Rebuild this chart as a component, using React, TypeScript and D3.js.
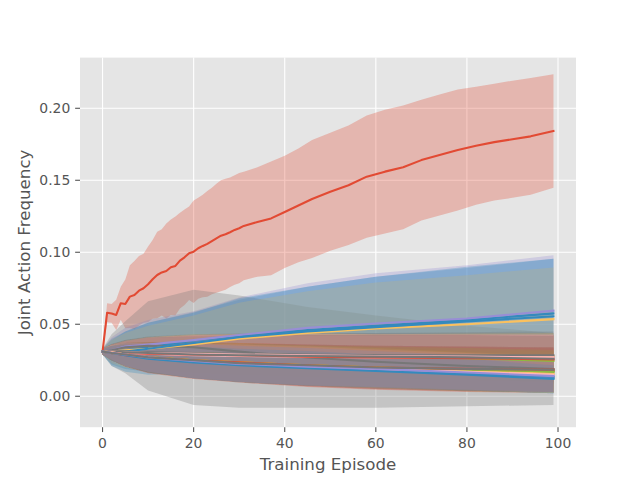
import * as d3 from 'd3';

// ggplot style colour cycle
const COLORS = ['#E24A33', '#348ABD', '#988ED5', '#777777', '#FBC15E', '#8EBA42', '#FFB5B8'];

const X_TICKS = [0, 20, 40, 60, 80, 100];
const Y_TICKS = [0, 0.05, 0.1, 0.15, 0.2];

// the dominant joint action (series 0), sampled densely
const RED_EPISODES = [
  0, 1, 2, 3, 4, 5, 6, 7, 8, 9, 10, 11, 12, 13, 14, 15, 16, 17, 18, 19, 20, 21, 22, 23, 24, 25,
  26, 27, 28, 29, 30, 31, 34, 37, 40, 43, 46, 50, 54, 58, 62, 66, 70, 74, 78, 82, 86, 90, 94, 99,
];
const RED_MEAN = [
  0.031, 0.058, 0.0575, 0.0565, 0.0646, 0.0641, 0.0692, 0.0703, 0.0733, 0.075, 0.0778, 0.0812,
  0.0842, 0.086, 0.087, 0.0896, 0.0905, 0.0942, 0.0965, 0.0993, 0.1004, 0.1028, 0.1044, 0.1058,
  0.1078, 0.1097, 0.1115, 0.1125, 0.1139, 0.1155, 0.1167, 0.1183, 0.121, 0.1235, 0.128, 0.1325,
  0.137, 0.142, 0.1465, 0.1525, 0.156, 0.159, 0.164, 0.1675, 0.171, 0.174, 0.1765, 0.1785, 0.1805,
  0.1842,
];
const RED_SD = [
  0.0, 0.0066, 0.0065, 0.0105, 0.0114, 0.0169, 0.0218, 0.0237, 0.0241, 0.024, 0.0262, 0.0273,
  0.0301, 0.03, 0.033, 0.0332, 0.0343, 0.0333, 0.0332, 0.0324, 0.0356, 0.035, 0.0356, 0.0367,
  0.037, 0.0378, 0.0385, 0.0385, 0.038, 0.038, 0.0383, 0.0377, 0.038, 0.0395, 0.039, 0.0395,
  0.041, 0.041, 0.0415, 0.0425, 0.043, 0.043, 0.042, 0.042, 0.042, 0.041, 0.0405, 0.0407, 0.0405,
  0.0394,
];

// the other 31 joint actions, sampled at these episodes
const EPISODES = [0, 2, 5, 10, 20, 30, 45, 60, 80, 99];

const MEANS = [
  [0.031, 0.031, 0.032, 0.034, 0.0385, 0.042, 0.046, 0.049, 0.053, 0.0575], // 1
  [0.031, 0.032, 0.0345, 0.036, 0.039, 0.0425, 0.0475, 0.0505, 0.054, 0.0594], // 2
  [0.031, 0.032, 0.034, 0.035, 0.034, 0.031, 0.027, 0.024, 0.021, 0.019], // 3
  [0.031, 0.031, 0.032, 0.033, 0.036, 0.04, 0.044, 0.047, 0.05, 0.0535], // 4
  [0.031, 0.031, 0.0305, 0.03, 0.0295, 0.029, 0.0285, 0.028, 0.0265, 0.0245], // 5
  [0.031, 0.031, 0.03, 0.0295, 0.029, 0.0285, 0.028, 0.0275, 0.027, 0.026], // 6
  [0.031, 0.031, 0.0305, 0.03, 0.0295, 0.029, 0.028, 0.0275, 0.027, 0.026], // 7
  [0.031, 0.03, 0.031, 0.033, 0.037, 0.041, 0.045, 0.048, 0.052, 0.0555], // 8
  [0.031, 0.0305, 0.03, 0.0295, 0.029, 0.0285, 0.028, 0.0275, 0.027, 0.0265], // 9
  [0.031, 0.031, 0.031, 0.03, 0.0295, 0.029, 0.0285, 0.028, 0.0275, 0.027], // 10
  [0.031, 0.031, 0.0305, 0.03, 0.03, 0.029, 0.0285, 0.028, 0.028, 0.028], // 11
  [0.031, 0.03, 0.029, 0.027, 0.025, 0.023, 0.0215, 0.02, 0.018, 0.017], // 12
  [0.031, 0.0305, 0.03, 0.0295, 0.0285, 0.028, 0.0275, 0.027, 0.027, 0.0265], // 13
  [0.031, 0.031, 0.03, 0.0295, 0.029, 0.0285, 0.0275, 0.027, 0.0265, 0.0255], // 14
  [0.031, 0.03, 0.029, 0.0265, 0.024, 0.022, 0.02, 0.018, 0.0155, 0.0125], // 15
  [0.031, 0.0305, 0.029, 0.027, 0.0245, 0.0225, 0.0205, 0.0185, 0.016, 0.0135], // 16
  [0.031, 0.0315, 0.031, 0.0305, 0.03, 0.0295, 0.029, 0.0285, 0.0285, 0.0285], // 17
  [0.031, 0.0305, 0.029, 0.027, 0.0245, 0.023, 0.021, 0.0195, 0.0175, 0.0155], // 18
  [0.031, 0.03, 0.029, 0.027, 0.025, 0.023, 0.021, 0.0195, 0.018, 0.017], // 19
  [0.031, 0.031, 0.0305, 0.03, 0.0295, 0.029, 0.0285, 0.028, 0.0275, 0.027], // 20
  [0.031, 0.03, 0.0285, 0.0265, 0.0245, 0.023, 0.021, 0.0195, 0.0185, 0.0178], // 21
  [0.031, 0.0305, 0.029, 0.027, 0.0245, 0.0225, 0.0205, 0.0185, 0.016, 0.0135], // 22
  [0.031, 0.03, 0.029, 0.027, 0.025, 0.023, 0.0215, 0.0195, 0.017, 0.015], // 23
  [0.031, 0.031, 0.0305, 0.03, 0.029, 0.0285, 0.028, 0.0275, 0.027, 0.026], // 24
  [0.031, 0.0305, 0.029, 0.027, 0.025, 0.0235, 0.0215, 0.02, 0.0175, 0.0155], // 25
  [0.031, 0.03, 0.029, 0.027, 0.025, 0.0235, 0.0215, 0.02, 0.0185, 0.0172], // 26
  [0.031, 0.0305, 0.029, 0.027, 0.0245, 0.023, 0.021, 0.019, 0.017, 0.015], // 27
  [0.031, 0.03, 0.029, 0.027, 0.025, 0.0235, 0.0215, 0.02, 0.019, 0.0185], // 28
  [0.031, 0.03, 0.0285, 0.026, 0.0235, 0.0215, 0.0195, 0.0175, 0.015, 0.012], // 29
  [0.031, 0.03, 0.029, 0.027, 0.0245, 0.0225, 0.0205, 0.019, 0.0165, 0.014], // 30
  [0.031, 0.03, 0.029, 0.027, 0.025, 0.023, 0.0215, 0.02, 0.019, 0.0185], // 31
];

const SDS = [
  [0.002, 0.009, 0.013, 0.017, 0.02, 0.025, 0.03, 0.034, 0.036, 0.038], // 1
  [0.002, 0.009, 0.013, 0.017, 0.02, 0.026, 0.031, 0.035, 0.037, 0.0385], // 2
  [0.002, 0.011, 0.018, 0.031, 0.04, 0.039, 0.035, 0.032, 0.028, 0.025], // 3
  [0.002, 0.008, 0.012, 0.016, 0.02, 0.025, 0.029, 0.032, 0.034, 0.036], // 4
  [0.002, 0.005, 0.008, 0.011, 0.013, 0.014, 0.015, 0.015, 0.0155, 0.016], // 5
  [0.002, 0.005, 0.008, 0.011, 0.0125, 0.0135, 0.0145, 0.015, 0.015, 0.0155], // 6
  [0.002, 0.005, 0.008, 0.011, 0.013, 0.014, 0.015, 0.0155, 0.016, 0.0165], // 7
  [0.002, 0.009, 0.014, 0.018, 0.021, 0.027, 0.031, 0.035, 0.038, 0.04], // 8
  [0.002, 0.005, 0.008, 0.011, 0.013, 0.014, 0.0145, 0.015, 0.0155, 0.016], // 9
  [0.002, 0.005, 0.008, 0.011, 0.013, 0.014, 0.015, 0.0155, 0.016, 0.0165], // 10
  [0.002, 0.005, 0.008, 0.011, 0.013, 0.014, 0.015, 0.015, 0.0155, 0.016], // 11
  [0.002, 0.005, 0.008, 0.01, 0.012, 0.013, 0.0135, 0.014, 0.014, 0.014], // 12
  [0.002, 0.005, 0.008, 0.011, 0.013, 0.014, 0.0145, 0.015, 0.0155, 0.016], // 13
  [0.002, 0.005, 0.008, 0.011, 0.013, 0.014, 0.015, 0.0155, 0.016, 0.0165], // 14
  [0.002, 0.005, 0.0075, 0.0095, 0.0115, 0.012, 0.0125, 0.012, 0.0115, 0.0105], // 15
  [0.002, 0.005, 0.008, 0.01, 0.012, 0.0125, 0.013, 0.013, 0.012, 0.0115], // 16
  [0.002, 0.005, 0.008, 0.011, 0.013, 0.014, 0.015, 0.0155, 0.016, 0.0165], // 17
  [0.002, 0.005, 0.008, 0.01, 0.012, 0.013, 0.0135, 0.0135, 0.013, 0.013], // 18
  [0.002, 0.005, 0.008, 0.01, 0.012, 0.013, 0.0135, 0.014, 0.014, 0.0145], // 19
  [0.002, 0.005, 0.008, 0.011, 0.013, 0.014, 0.015, 0.015, 0.0155, 0.016], // 20
  [0.002, 0.005, 0.008, 0.0105, 0.0125, 0.0135, 0.0145, 0.015, 0.0155, 0.0155], // 21
  [0.002, 0.005, 0.008, 0.01, 0.012, 0.0125, 0.013, 0.013, 0.012, 0.0115], // 22
  [0.002, 0.005, 0.008, 0.01, 0.012, 0.013, 0.0135, 0.0135, 0.013, 0.0125], // 23
  [0.002, 0.005, 0.008, 0.011, 0.0125, 0.0135, 0.0145, 0.015, 0.0155, 0.016], // 24
  [0.002, 0.005, 0.008, 0.01, 0.012, 0.013, 0.0135, 0.0135, 0.013, 0.013], // 25
  [0.002, 0.005, 0.008, 0.0105, 0.0125, 0.0135, 0.014, 0.0145, 0.015, 0.015], // 26
  [0.002, 0.005, 0.008, 0.01, 0.012, 0.013, 0.0135, 0.0135, 0.013, 0.0125], // 27
  [0.002, 0.005, 0.008, 0.0105, 0.0125, 0.0135, 0.0145, 0.015, 0.0155, 0.0155], // 28
  [0.002, 0.005, 0.0075, 0.0095, 0.011, 0.0115, 0.012, 0.0115, 0.011, 0.0095], // 29
  [0.002, 0.005, 0.008, 0.01, 0.012, 0.0125, 0.013, 0.0125, 0.012, 0.011], // 30
  [0.002, 0.005, 0.008, 0.0105, 0.0125, 0.0135, 0.0145, 0.015, 0.0155, 0.0155], // 31
];

const W = 640;
const H = 480;
const AX = { left: 80, right: 576, top: 57.6, bottom: 427.2 };
const FONT = '"DejaVu Sans", sans-serif';
const TEXT = '#555555';

type Pt = { x: number; m: number; s: number };

export default function App() {
  const x = d3.scaleLinear().domain([-4.95, 103.95]).range([AX.left, AX.right]);
  const y = d3.scaleLinear().domain([-0.0215, 0.2352]).range([AX.bottom, AX.top]);

  const series = [
    { ep: RED_EPISODES, mean: RED_MEAN, sd: RED_SD },
    ...MEANS.map((m, i) => ({ ep: EPISODES, mean: m, sd: SDS[i] })),
  ].map((s, i) => ({
    color: COLORS[i % COLORS.length],
    pts: s.ep.map((e, j) => ({ x: e, m: s.mean[j], s: s.sd[j] })) as Pt[],
  }));

  const area = d3.area<Pt>()
    .x(d => x(d.x))
    .y0(d => y(d.m - d.s))
    .y1(d => y(d.m + d.s));
  const line = d3.line<Pt>()
    .x(d => x(d.x))
    .y(d => y(d.m));

  return (
    <svg width={W} height={H} style={{ position: 'absolute', left: 0, top: 0, background: '#fff' }}>
      <rect x={AX.left} y={AX.top} width={AX.right - AX.left} height={AX.bottom - AX.top} fill="#E5E5E5" />
      <g>
        {X_TICKS.map(t => (
          <line key={`gx${t}`} x1={x(t)} x2={x(t)} y1={AX.top} y2={AX.bottom} stroke="#fff" strokeWidth={1.1} />
        ))}
        {Y_TICKS.map(t => (
          <line key={`gy${t}`} x1={AX.left} x2={AX.right} y1={y(t)} y2={y(t)} stroke="#fff" strokeWidth={1.1} />
        ))}
      </g>

      {/* bands (collections sit under the lines) */}
      <g>
        {series.map((s, i) => (
          <path key={`b${i}`} d={area(s.pts) ?? ''} fill={s.color} fillOpacity={0.3} stroke="none" />
        ))}
      </g>
      <g>
        {series.map((s, i) => (
          <path key={`l${i}`} d={line(s.pts) ?? ''} fill="none" stroke={s.color} strokeWidth={2.08}
            strokeLinejoin="round" strokeLinecap="square" />
        ))}
      </g>

      {/* ticks */}
      <g fontFamily={FONT} fontSize={13.9} fill={TEXT}>
        {X_TICKS.map(t => (
          <g key={`tx${t}`}>
            <line x1={x(t)} x2={x(t)} y1={AX.bottom} y2={AX.bottom + 4.86} stroke={TEXT} strokeWidth={1.1} />
            <text x={x(t)} y={AX.bottom + 20.5} textAnchor="middle">{t}</text>
          </g>
        ))}
        {Y_TICKS.map(t => (
          <g key={`ty${t}`}>
            <line x1={AX.left - 4.86} x2={AX.left} y1={y(t)} y2={y(t)} stroke={TEXT} strokeWidth={1.1} />
            <text x={AX.left - 9.7} y={y(t)} dy="0.36em" textAnchor="end">{t.toFixed(2)}</text>
          </g>
        ))}
      </g>

      <text x={(AX.left + AX.right) / 2} y={470} textAnchor="middle" fontFamily={FONT} fontSize={16.67} fill={TEXT}>
        Training Episode
      </text>
      <text transform={`translate(30,${(AX.top + AX.bottom) / 2}) rotate(-90)`} textAnchor="middle"
        fontFamily={FONT} fontSize={16.67} fill={TEXT}>
        Joint Action Frequency
      </text>
    </svg>
  );
}
